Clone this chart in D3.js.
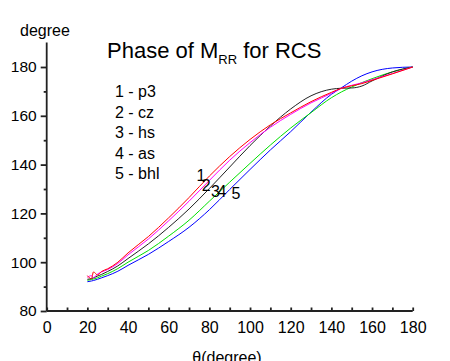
<!DOCTYPE html>
<html>
<head>
<meta charset="utf-8">
<script src="https://cdn.jsdelivr.net/npm/d3@7"></script>
<style>
  body { margin: 0; background: #fff; }
  svg text { font-family: "Liberation Sans", Arial, sans-serif; fill: #000; }
</style>
</head>
<body>
<svg id="chart" width="450" height="361"></svg>
<script>
// theta values (degree) shared by all curves
var thetas = [20, 22, 23, 25, 27, 30, 35, 40, 50, 60, 70, 80, 90, 100, 110, 120, 130, 140, 145, 150, 155, 160, 170, 180];

// phase values
var p3  = [94.5, 93.2, 96.0, 94.8, 96.2, 97.3, 100.0, 103.8, 110.5, 118.2, 126.5, 135.3, 143.3, 150.3, 156.3, 161.2, 165.8, 169.6, 171.3, 172.3, 173.2, 174.5, 177.2, 180];
var cz  = [93.8, 94.5, 93.6, 95.2, 96.0, 97.0, 99.5, 103.0, 109.5, 117.0, 125.0, 133.5, 141.8, 149.0, 155.3, 160.6, 165.3, 169.2, 171.3, 172.5, 173.5, 174.8, 177.3, 180];
var hs  = [93.0, 93.3, 93.6, 94.3, 95.0, 96.2, 98.5, 101.5, 107.5, 114.3, 121.8, 130.2, 139.0, 147.8, 155.8, 162.8, 168.2, 170.9, 171.3, 171.4, 172.2, 174.3, 178.0, 180];
var as  = [92.6, 92.9, 93.1, 93.6, 94.3, 95.3, 97.4, 100.0, 104.8, 110.7, 117.2, 125.0, 132.8, 140.5, 148.0, 155.0, 161.3, 167.4, 169.8, 171.8, 173.6, 175.2, 178.0, 180];
var bhl = [92.0, 92.3, 92.5, 93.0, 93.6, 94.5, 96.3, 98.7, 103.2, 108.5, 114.3, 121.5, 129.8, 138.0, 146.0, 153.5, 161.5, 168.8, 171.5, 174.2, 176.4, 178.0, 179.6, 180];

var legendLabels = ["1 - p3", "2 - cz", "3 - hs", "4 - as", "5 - bhl"];
var curveNumbers = ["1", "2", "3", "4", "5"];
// where the curve numbers sit, in data units
var numberTheta = [73.7, 76.2, 80.8, 84.0, 90.9];
var numberPhase = [133.4, 129.3, 126.6, 126.6, 125.8];

var xTicks = [0, 20, 40, 60, 80, 100, 120, 140, 160, 180];
var yTicks = [80, 100, 120, 140, 160, 180];

var series = [
    { values: bhl, color: "#0000ff" },
    { values: as,  color: "#00e000" },
    { values: hs,  color: "#222222" },
    { values: cz,  color: "#ff00ff" },
    { values: p3,  color: "#ff0000" }
];

var svg = d3.select("#chart");

var x = d3.scaleLinear().domain([0, 180]).range([46.7, 412.7]);
var y = d3.scaleLinear().domain([80, 190]).range([311, 42.6]);

// axes
var axisColor = "#222";

var yAxis = svg.append("g").attr("transform", "translate(" + x(0) + ",0)");
yAxis.call(d3.axisLeft(y).tickValues(yTicks).tickSize(6).tickPadding(4).tickFormat(d3.format("d")));
yAxis.append("g").call(d3.axisLeft(y).tickValues(d3.range(90, 190, 20)).tickSize(3).tickFormat(""));
yAxis.selectAll(".domain").remove();
yAxis.append("line").attr("x1", 0).attr("x2", 0).attr("y1", y(80)).attr("y2", y(190));

var xAxis = svg.append("g").attr("transform", "translate(0," + y(80) + ")");
xAxis.call(d3.axisBottom(x).tickValues(xTicks).tickSize(0).tickPadding(11).tickFormat(d3.format("d")));
xAxis.append("g").call(d3.axisTop(x).tickValues(d3.range(0, 181, 10)).tickSize(3.5).tickFormat(""));
xAxis.selectAll(".domain").remove();
xAxis.append("line").attr("x1", x(0)).attr("x2", x(180)).attr("y1", 0).attr("y2", 0);

svg.selectAll("g line").attr("stroke", axisColor).attr("stroke-width", 1.8);
svg.selectAll("g .tick text").attr("font-size", 16).attr("font-family", "Liberation Sans, Arial, sans-serif").attr("fill", "#000");
yAxis.selectAll(".tick text").attr("font-size", 15.5);

// curves
var line = d3.line()
    .x(function(d) { return x(d[0]); })
    .y(function(d) { return y(d[1]); })
    .curve(d3.curveMonotoneX);

svg.selectAll("path.curve")
    .data(series)
    .enter()
    .append("path")
    .attr("class", "curve")
    .attr("fill", "none")
    .attr("stroke", function(d) { return d.color; })
    .attr("stroke-width", 1)
    .attr("d", function(d) { return line(thetas.map(function(t, i) { return [t, d.values[i]]; })); });

// curve numbers
svg.selectAll("text.num")
    .data(curveNumbers)
    .enter()
    .append("text")
    .attr("class", "num")
    .attr("x", function(d, i) { return x(numberTheta[i]); })
    .attr("y", function(d, i) { return y(numberPhase[i]); })
    .attr("font-size", 16)
    .text(function(d) { return d; });

// legend text
svg.selectAll("text.leg")
    .data(legendLabels)
    .enter()
    .append("text")
    .attr("class", "leg")
    .attr("x", 115)
    .attr("y", function(d, i) { return 97 + i * 20.6; })
    .attr("font-size", 16)
    .text(function(d) { return d; });

// title
var title = svg.append("text").attr("x", 107).attr("y", 58).attr("font-size", 22);
title.append("tspan").text("Phase of M");
title.append("tspan").attr("font-size", 13).attr("dy", 6).text("RR");
title.append("tspan").attr("dy", -6).text(" for RCS");

// axis titles
svg.append("text").attr("x", 20).attr("y", 36).attr("font-size", 16).text("degree");
svg.append("text").attr("x", 227).attr("y", 363).attr("font-size", 16).attr("text-anchor", "middle").text("θ(degree)");
</script>
</body>
</html>
